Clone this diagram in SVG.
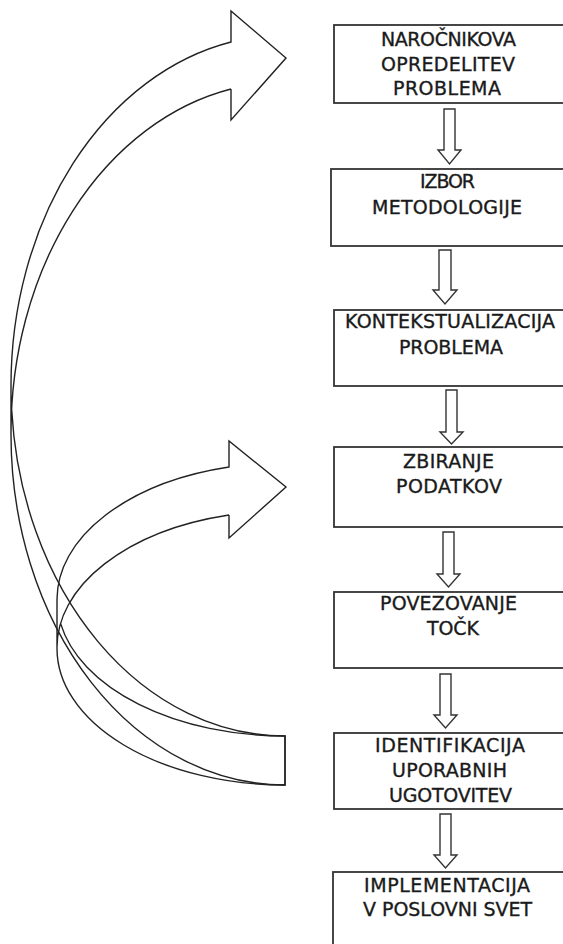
<svg xmlns="http://www.w3.org/2000/svg" width="563" height="944" viewBox="0 0 563 944">
<style>
.box{fill:#fff;stroke:#333;stroke-width:1.8}
.lbl{font-family:"DejaVu Sans","Liberation Sans",sans-serif;font-size:19px;fill:#1a1a1a;stroke:#1a1a1a;stroke-width:0.35;text-anchor:middle}
.down{fill:#fff;stroke:#333;stroke-width:1.4;stroke-linejoin:miter}
.curve{fill:none;stroke:#222;stroke-width:1.4;stroke-linejoin:miter}
</style>
<rect width="563" height="944" fill="#fff"/>
<g id="connectors">
<path id="loop-big" class="curve" d="M 231,89 L 231,120 L 286,58 L 231,11 L 231,42 A 274 350.5 0 0 0 11,385.5 L 11,434.5 A 274 350.5 0 0 0 285,785 L 285,736 A 274 350.5 0 0 1 11.7,410 M 11,434.5 A 274 350.5 0 0 1 231,89"/>
<path id="loop-small" class="curve" d="M 229,515 L 229,538 L 286,487 L 229,441 L 229,467 A 228 136.6 0 0 0 57,599.4 L 57,648.4 A 228 136.6 0 0 0 285,785 L 285,736 A 228 136.6 0 0 1 60.7,623.9 M 57,648.4 A 228 136.6 0 0 1 229,515"/>
<polygon class="down" points="444,109 455,109 455,150 461,150 449.5,164 438,150 444,150"/>
<polygon class="down" points="439,250 451,250 451,290 457,290 445,304 433,290 439,290"/>
<polygon class="down" points="446,390 457,390 457,432 463,432 451.5,444 440,432 446,432"/>
<polygon class="down" points="443,532 454,532 454,574 460,574 448.5,587 437,574 443,574"/>
<polygon class="down" points="440,674 451,674 451,715 457,715 445.5,728 434,715 440,715"/>
<polygon class="down" points="440,814 451,814 451,855 457,855 445.5,868 434,855 440,855"/>
</g>
<g id="n1">
<rect class="box" x="334" y="25" width="241" height="78"/>
<text class="lbl" x="448.5" y="46" textLength="135">NAROČNIKOVA</text>
<text class="lbl" x="448" y="71" textLength="134">OPREDELITEV</text>
<text class="lbl" x="447" y="95" textLength="108">PROBLEMA</text>
</g>
<g id="n2">
<rect class="box" x="331" y="169" width="244" height="77"/>
<text class="lbl" x="447.5" y="188" textLength="55">IZBOR</text>
<text class="lbl" x="447" y="214" textLength="150">METODOLOGIJE</text>
</g>
<g id="n3">
<rect class="box" x="334" y="310" width="241" height="76"/>
<text class="lbl" x="450" y="328" textLength="210">KONTEKSTUALIZACIJA</text>
<text class="lbl" x="451" y="354" textLength="104">PROBLEMA</text>
</g>
<g id="n4">
<rect class="box" x="334" y="447" width="241" height="80"/>
<text class="lbl" x="448.5" y="468" textLength="91">ZBIRANJE</text>
<text class="lbl" x="449" y="493" textLength="106">PODATKOV</text>
</g>
<g id="n5">
<rect class="box" x="334" y="592" width="241" height="76"/>
<text class="lbl" x="448.5" y="610" textLength="137">POVEZOVANJE</text>
<text class="lbl" x="453" y="635" textLength="52">TOČK</text>
</g>
<g id="n6">
<rect class="box" x="334" y="733" width="241" height="76"/>
<text class="lbl" x="450" y="752" textLength="150">IDENTIFIKACIJA</text>
<text class="lbl" x="449.5" y="777" textLength="115">UPORABNIH</text>
<text class="lbl" x="450.5" y="802" textLength="123">UGOTOVITEV</text>
</g>
<g id="n7">
<rect class="box" x="333" y="872" width="242" height="90"/>
<text class="lbl" x="447" y="892" textLength="166">IMPLEMENTACIJA</text>
<text class="lbl" x="447.5" y="916" textLength="169">V POSLOVNI SVET</text>
</g>
</svg>
